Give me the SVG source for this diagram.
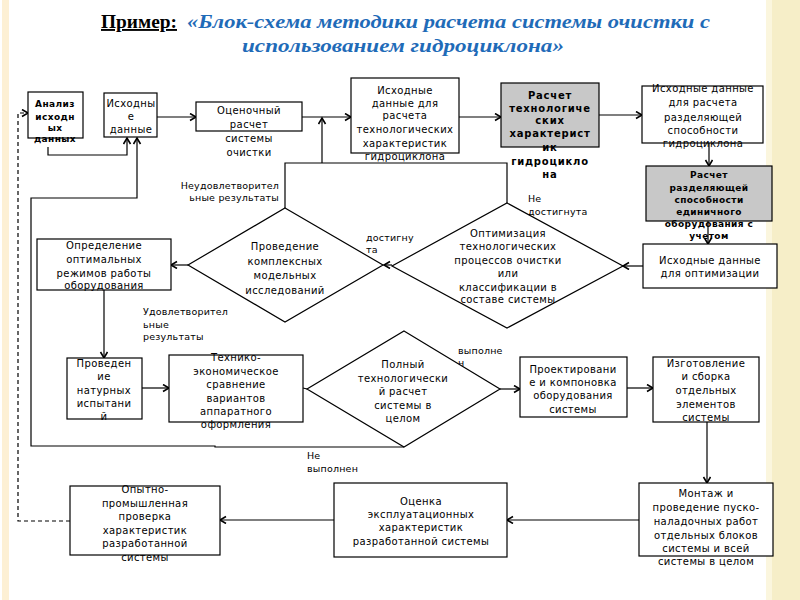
<svg xmlns="http://www.w3.org/2000/svg" width="800" height="600" viewBox="0 0 800 600">
<style>
.bx{fill:#fff;stroke:#000;stroke-width:1.2}
.gr{fill:#c8c8c8;stroke:#000;stroke-width:1.2}
.t{font-family:"DejaVu Sans",sans-serif;font-size:10px;letter-spacing:0.4px;fill:#000;text-anchor:middle}
.b{font-family:"DejaVu Sans",sans-serif;font-size:10px;font-weight:bold;letter-spacing:0.8px;fill:#000;text-anchor:middle}
.s{font-family:"DejaVu Sans",sans-serif;font-size:9px;font-weight:bold;letter-spacing:0.4px;fill:#000;text-anchor:middle}
.l{font-family:"DejaVu Sans",sans-serif;font-size:9.5px;letter-spacing:0.2px;fill:#000}
.c{fill:none;stroke:#000;stroke-width:1.2}
.d{fill:none;stroke:#000;stroke-width:1.2;stroke-dasharray:4,3}
</style>
<defs>
<marker id="a" markerUnits="userSpaceOnUse" markerWidth="10" markerHeight="10" refX="7" refY="4" orient="auto">
<path d="M1,0.5 L7,4 L1,7.5" fill="none" stroke="#000" stroke-width="1.6"/>
</marker>
</defs>
<rect width="800" height="600" fill="#fff"/>
<rect x="2" y="0" width="7" height="600" fill="#fdf0d4"/>
<rect x="766" y="0" width="6" height="600" fill="#fbf6de"/>
<rect x="772" y="0" width="28" height="600" fill="#f6eec8"/>

<g id="title">
<text x="101" y="28" font-family="Liberation Serif,serif" font-size="19" font-weight="bold" text-decoration="underline" textLength="76" lengthAdjust="spacingAndGlyphs">Пример:</text>
<text x="187" y="28" font-family="Liberation Serif,serif" font-size="19" font-weight="bold" font-style="italic" fill="#1f6bb8" textLength="523" lengthAdjust="spacingAndGlyphs">«Блок-схема методики расчета системы очистки с</text>
<text x="242" y="52" font-family="Liberation Serif,serif" font-size="19" font-weight="bold" font-style="italic" fill="#1f6bb8" textLength="322" lengthAdjust="spacingAndGlyphs">использованием гидроциклона»</text>
</g>

<g id="connectors">
<line class="c" x1="157" y1="117" x2="196" y2="117" marker-end="url(#a)"/>
<line class="c" x1="302" y1="117" x2="351" y2="117" marker-end="url(#a)"/>
<line class="c" x1="459" y1="117" x2="501" y2="117" marker-end="url(#a)"/>
<line class="c" x1="599" y1="115" x2="642" y2="115" marker-end="url(#a)"/>
<line class="c" x1="709" y1="143" x2="709" y2="166" marker-end="url(#a)"/>
<line class="c" x1="708" y1="221" x2="708" y2="244" marker-end="url(#a)"/>
<line class="c" x1="643" y1="266" x2="623" y2="266" marker-end="url(#a)"/>
<line class="c" x1="392" y1="265" x2="384" y2="265" marker-end="url(#a)"/>
<line class="c" x1="188" y1="265" x2="171" y2="265" marker-end="url(#a)"/>
<polyline class="c" points="285,208 285,163 507,163 507,203"/>
<line class="c" x1="322" y1="163" x2="322" y2="118" marker-end="url(#a)"/>
<polyline class="c" points="48,147 48,155 127,155 127,138" marker-end="url(#a)"/>
<polyline class="c" points="404,447 215,447 215,446 31,446 31,198 137,198 137,138" marker-end="url(#a)"/>
<line class="c" x1="104" y1="290" x2="104" y2="358" marker-end="url(#a)"/>
<line class="c" x1="142" y1="388" x2="169" y2="388" marker-end="url(#a)"/>
<line class="c" x1="303" y1="388" x2="307" y2="389"/>
<line class="c" x1="500" y1="389" x2="520" y2="389" marker-end="url(#a)"/>
<line class="c" x1="627" y1="388" x2="653" y2="388" marker-end="url(#a)"/>
<line class="c" x1="707" y1="422" x2="707" y2="483" marker-end="url(#a)"/>
<line class="c" x1="639" y1="520" x2="507" y2="520" marker-end="url(#a)"/>
<line class="c" x1="334" y1="520" x2="220" y2="520" marker-end="url(#a)"/>
<polyline class="d" points="70,521 18,521 18,113 28,113" marker-end="url(#a)"/>
</g>

<g id="labels">
<text class="l" x="279" y="189" text-anchor="end">Неудовлетворител</text>
<text class="l" x="279" y="201" text-anchor="end">ьные результаты</text>
<text class="l" x="366" y="241">достигну</text>
<text class="l" x="366" y="253">та</text>
<text class="l" x="528" y="202">Не</text>
<text class="l" x="528" y="215">достигнута</text>
<text class="l" x="143" y="315">Удовлетворител</text>
<text class="l" x="143" y="328">ьные</text>
<text class="l" x="143" y="340">результаты</text>
<text class="l" x="458" y="354">выполне</text>
<text class="l" x="458" y="366">н</text>
<text class="l" x="307" y="459">Не</text>
<text class="l" x="307" y="472">выполнен</text>
</g>

<g id="n1">
<rect class="bx" x="28" y="92" width="55" height="46"/>
<text class="s" x="55" y="107">Анализ</text>
<text class="s" x="55" y="120">исходн</text>
<text class="s" x="55" y="131">ых</text>
<text class="s" x="55" y="142">данных</text>
</g>
<g id="n2">
<rect class="bx" x="104" y="93" width="53" height="44"/>
<text class="t" x="131" y="107">Исходны</text>
<text class="t" x="131" y="120">е</text>
<text class="t" x="131" y="133">данные</text>
</g>
<g id="n3">
<rect class="bx" x="196" y="102" width="106" height="29"/>
<text class="t" x="249" y="114">Оценочный</text>
<text class="t" x="249" y="128">расчет</text>
<text class="t" x="249" y="142">системы</text>
<text class="t" x="249" y="156">очистки</text>
</g>
<g id="n4">
<rect class="bx" x="351" y="78" width="108" height="75"/>
<text class="t" x="405" y="94">Исходные</text>
<text class="t" x="405" y="107">данные для</text>
<text class="t" x="405" y="119">расчета</text>
<text class="t" x="405" y="133">технологических</text>
<text class="t" x="405" y="147">характеристик</text>
<text class="t" x="405" y="160">гидроциклона</text>
</g>
<g id="n5">
<rect class="gr" x="501" y="83" width="98" height="64"/>
<text class="b" x="550" y="99">Расчет</text>
<text class="b" x="550" y="112">технологиче</text>
<text class="b" x="550" y="124">ских</text>
<text class="b" x="550" y="137">характерист</text>
<text class="b" x="550" y="151">ик</text>
<text class="b" x="550" y="165">гидроцикло</text>
<text class="b" x="550" y="178">на</text>
</g>
<g id="n6">
<rect class="bx" x="642" y="86" width="121" height="57"/>
<text class="t" x="703" y="92">Исходные данные</text>
<text class="t" x="703" y="106">для расчета</text>
<text class="t" x="703" y="121">разделяющей</text>
<text class="t" x="703" y="134">способности</text>
<text class="t" x="703" y="147">гидроциклона</text>
</g>
<g id="n7">
<rect class="gr" x="646" y="166" width="126" height="55"/>
<text class="s" x="709" y="178">Расчет</text>
<text class="s" x="709" y="191">разделяющей</text>
<text class="s" x="709" y="203">способности</text>
<text class="s" x="709" y="215">единичного</text>
<text class="s" x="709" y="227">оборудования с</text>
<text class="s" x="709" y="239">учетом</text>
</g>
<g id="n8">
<rect class="bx" x="643" y="244" width="134" height="44"/>
<text class="t" x="710" y="264">Исходные данные</text>
<text class="t" x="710" y="277">для оптимизации</text>
</g>
<g id="n9">
<polygon class="bx" points="507,203 623,266 507,328 392,266"/>
<text class="t" x="508" y="237">Оптимизация</text>
<text class="t" x="508" y="250">технологических</text>
<text class="t" x="508" y="264">процессов очистки</text>
<text class="t" x="508" y="277">или</text>
<text class="t" x="508" y="291">классификации в</text>
<text class="t" x="508" y="303">составе системы</text>
</g>
<g id="n10">
<polygon class="bx" points="285,208 383,265 285,322 188,265"/>
<text class="t" x="285" y="250">Проведение</text>
<text class="t" x="285" y="265">комплексных</text>
<text class="t" x="285" y="279">модельных</text>
<text class="t" x="285" y="294">исследований</text>
</g>
<g id="n11">
<rect class="bx" x="37" y="239" width="134" height="51"/>
<text class="t" x="104" y="249">Определение</text>
<text class="t" x="104" y="263">оптимальных</text>
<text class="t" x="104" y="277">режимов работы</text>
<text class="t" x="104" y="289">оборудования</text>
</g>
<g id="n12">
<rect class="bx" x="67" y="358" width="75" height="61"/>
<text class="t" x="104" y="367">Проведен</text>
<text class="t" x="104" y="380">ие</text>
<text class="t" x="104" y="394">натурных</text>
<text class="t" x="104" y="407">испытани</text>
<text class="t" x="104" y="420">й</text>
</g>
<g id="n13">
<rect class="bx" x="169" y="355" width="134" height="67"/>
<text class="t" x="236" y="361">Технико-</text>
<text class="t" x="236" y="375">экономическое</text>
<text class="t" x="236" y="388">сравнение</text>
<text class="t" x="236" y="402">вариантов</text>
<text class="t" x="236" y="415">аппаратного</text>
<text class="t" x="236" y="428">оформления</text>
</g>
<g id="n14">
<polygon class="bx" points="404,331 500,389 404,447 307,389"/>
<text class="t" x="403" y="368">Полный</text>
<text class="t" x="403" y="382">технологически</text>
<text class="t" x="403" y="395">й расчет</text>
<text class="t" x="403" y="409">системы в</text>
<text class="t" x="403" y="422">целом</text>
</g>
<g id="n15">
<rect class="bx" x="520" y="357" width="107" height="60"/>
<text class="t" x="573" y="373">Проектировани</text>
<text class="t" x="573" y="386">е и компоновка</text>
<text class="t" x="573" y="399">оборудования</text>
<text class="t" x="573" y="413">системы</text>
</g>
<g id="n16">
<rect class="bx" x="653" y="357" width="106" height="65"/>
<text class="t" x="706" y="367">Изготовление</text>
<text class="t" x="706" y="380">и сборка</text>
<text class="t" x="706" y="394">отдельных</text>
<text class="t" x="706" y="408">элементов</text>
<text class="t" x="706" y="421">системы</text>
</g>
<g id="n17">
<rect class="bx" x="639" y="483" width="134" height="73"/>
<text class="t" x="706" y="497">Монтаж и</text>
<text class="t" x="706" y="511">проведение пуско-</text>
<text class="t" x="706" y="525">наладочных работ</text>
<text class="t" x="706" y="539">отдельных блоков</text>
<text class="t" x="706" y="552">системы и всей</text>
<text class="t" x="706" y="565">системы в целом</text>
</g>
<g id="n18">
<rect class="bx" x="334" y="483" width="173" height="74"/>
<text class="t" x="421" y="505">Оценка</text>
<text class="t" x="421" y="518">эксплуатационных</text>
<text class="t" x="421" y="531">характеристик</text>
<text class="t" x="421" y="545">разработанной системы</text>
</g>
<g id="n19">
<rect class="bx" x="70" y="486" width="150" height="69"/>
<text class="t" x="145" y="493">Опытно-</text>
<text class="t" x="145" y="507">промышленная</text>
<text class="t" x="145" y="520">проверка</text>
<text class="t" x="145" y="534">характеристик</text>
<text class="t" x="145" y="547">разработанной</text>
<text class="t" x="145" y="561">системы</text>
</g>
</svg>
